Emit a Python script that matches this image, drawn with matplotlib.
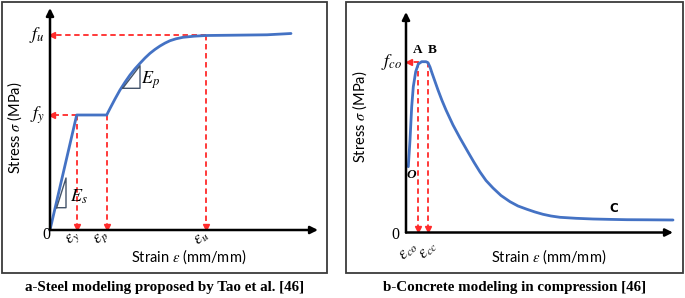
import matplotlib
matplotlib.use("Agg")
import matplotlib.pyplot as plt
from matplotlib.patches import Rectangle

plt.rcParams["mathtext.fontset"] = "stix"
plt.rcParams["font.family"] = ["Lato", "DejaVu Sans"]

# steel model (a) - arbitrary units
steel_strain = [0, 26.7, 56.7, 60, 65, 70, 75, 80, 85, 90, 95, 100, 105, 110, 115, 120,
                126, 133, 144, 156, 183, 217, 241]
steel_stress = [0, 115, 115, 121.5, 131, 140, 147.8, 155, 161.2, 166.7, 172, 176.7, 180.6,
                184, 186.9, 189.3, 191.2, 192.7, 193.8, 194.5, 194.8, 195.2, 196.5]
eps_y, eps_p, eps_u = 26.7, 56.7, 156
f_y, f_u = 115, 195

# concrete model (b)
conc_strain = [2.3, 4, 5.7, 7.3, 9.7, 12.3, 15.7, 20, 22, 24, 26, 29, 32, 36, 40, 47, 54,
               62, 68, 74, 80, 87, 95, 104, 112, 121, 129, 137, 145, 154, 170, 187, 205,
               221, 240, 267]
conc_stress = [65.8, 92.5, 125.8, 145.8, 160.8, 168.5, 170.8, 170.8, 169.8, 165.5, 159.5,
               151, 142.5, 132, 122.5, 107.5, 94.5, 80.5, 70.2, 60.5, 52, 44.5, 37, 30.8,
               26.5, 23.2, 20.5, 18.2, 16.5, 15.2, 14.2, 13.5, 13.1, 12.8, 12.7, 12.5]
eps_co, eps_cc = 11.7, 21.7
f_co = 170.8

BLUE = "#4472C4"
RED = "#FF2A2A"
W, H = 685, 298

fig = plt.figure(figsize=(W / 100, H / 100), dpi=100)

# panel frames
for x0, x1 in [(2, 327), (346, 683)]:
    fig.patches.append(Rectangle((x0 / W, 1 - 273 / H), (x1 - x0) / W, 271 / H,
                                 transform=fig.transFigure, fill=False,
                                 ec="#3a3a3a", lw=1.3))


def make_axes(left, origin_y):
    ax = fig.add_axes([left / W, (H - origin_y) / H, 270 / W, 222 / H])
    ax.set_xlim(0, 270)
    ax.set_ylim(0, 222)
    ax.axis("off")
    return ax


def axis_arrows(ax, xend, yend):
    kw = dict(arrowstyle="-|>", color="black", lw=1.8, mutation_scale=11, shrinkA=0, shrinkB=0)
    ax.annotate("", xy=(xend, 0), xytext=(0, 0), arrowprops=kw, annotation_clip=False)
    ax.annotate("", xy=(0, yend), xytext=(0, 0), arrowprops=kw, annotation_clip=False)


def red_h(ax, x, y):
    ax.plot([x, 2], [y, y], ls=(0, (3, 2)), color=RED, lw=1.3, clip_on=False)
    ax.plot([2.5], [y], marker="<", ms=4, color=RED, clip_on=False)


def red_v(ax, x, y):
    ax.plot([x, x], [y, 3], ls=(0, (3, 2)), color=RED, lw=1.3, clip_on=False)
    ax.plot([x], [3.5], marker="v", ms=4, color=RED, clip_on=False)


# ---- (a) steel
ax1 = make_axes(50, 230)
red_h(ax1, eps_y, f_y)
red_h(ax1, eps_u, f_u)
red_v(ax1, eps_y, f_y)
red_v(ax1, eps_p, f_y)
red_v(ax1, eps_u, f_u)
ax1.plot(steel_strain, steel_stress, color=BLUE, lw=2, clip_on=False, solid_capstyle="round")
axis_arrows(ax1, 268, 222)

tri = dict(color="#44546A", lw=1)
ax1.plot([6.7, 16, 16, 6.7], [22.3, 22.3, 52, 22.3], **tri)
ax1.plot([72.7, 90, 90, 72.7], [141.7, 141.7, 164.3, 141.7], **tri)
ax1.text(29, 33, "$E_s$", fontsize=13, ha="center", va="center")
ax1.text(100, 150, "$E_p$", fontsize=13, ha="center", va="center")

ax1.text(-4, -5, "0", fontsize=11.5, family="Liberation Serif", ha="center", va="center")
ax1.text(-5, f_u, "$f_u$", fontsize=13, ha="right", va="center")
ax1.text(-5, f_y, "$f_y$", fontsize=13, ha="right", va="center")
for xv, lab in [(23, r"$\varepsilon_y$"), (51.7, r"$\varepsilon_p$"), (151.7, r"$\varepsilon_u$")]:
    ax1.text(xv, -8, lab, fontsize=12, ha="center", va="center", rotation=40)
ax1.text(-35, 102, r"Stress $\sigma$ (MPa)", fontsize=10.5, rotation=90, ha="center", va="center")
ax1.text(139, -27, r"Strain $\varepsilon$ (mm/mm)", fontsize=10.5, ha="center", va="center")

# ---- (b) concrete
ax2 = make_axes(406, 232.5)
ax2.plot([eps_cc, 2], [f_co, f_co], ls=(0, (3, 2)), color=RED, lw=1.3, clip_on=False)
ax2.plot([2.5], [f_co], marker="<", ms=4, color=RED, clip_on=False)
red_v(ax2, eps_co, f_co)
red_v(ax2, eps_cc, f_co)
ax2.plot(conc_strain, conc_stress, color=BLUE, lw=2, clip_on=False, solid_capstyle="round")
axis_arrows(ax2, 267, 220.5)

ax2.text(-11, -2.5, "0", fontsize=11.5, family="Liberation Serif", ha="center", va="center")
ax2.text(-4, f_co, "$f_{co}$", fontsize=13, ha="right", va="center")
ax2.text(2, -19, r"$\varepsilon_{co}$", fontsize=12, ha="center", va="center", rotation=45)
ax2.text(22.3, -17.5, r"$\varepsilon_{cc}$", fontsize=12, ha="center", va="center", rotation=45)
ax2.text(11.7, 182.5, "A", fontsize=9.5, fontweight="bold", family="Liberation Serif",
         ha="center", va="center")
ax2.text(26, 182.5, "B", fontsize=9.5, fontweight="bold", family="Liberation Serif",
         ha="center", va="center")
ax2.text(208, 23.5, "C", fontsize=8.5, fontweight="bold", family="DejaVu Sans",
         ha="center", va="center")
ax2.text(5.7, 57.5, "O", fontsize=9.5, family="Liberation Serif", fontweight="bold",
         style="italic", ha="center", va="center")
ax2.text(-46, 115.5, r"Stress $\sigma$ (MPa)", fontsize=10.5, rotation=90, ha="center", va="center")
ax2.text(143, -24.5, r"Strain $\varepsilon$ (mm/mm)", fontsize=10.5, ha="center", va="center")

# captions
cap = dict(fontsize=10.8, fontweight="bold", family="Liberation Serif", ha="center", va="center")
fig.text(165 / W, 1 - 287 / H, "a-Steel modeling proposed by Tao et al. [46]", **cap)
fig.text(515 / W, 1 - 287 / H, "b-Concrete modeling in compression [46]", **cap)

fig.savefig("out.png", dpi=100)
